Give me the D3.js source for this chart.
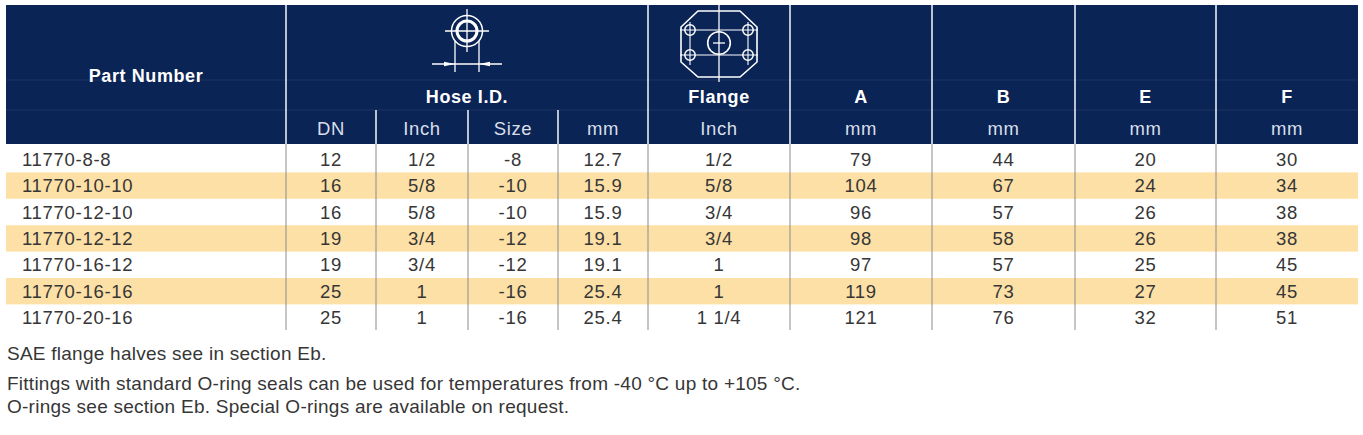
<!DOCTYPE html>
<html>
<head>
<meta charset="utf-8">
<script src="https://cdn.jsdelivr.net/npm/d3@7/dist/d3.min.js"></script>
<style>
  html, body { margin: 0; padding: 0; background: #ffffff; }
  svg { display: block; }
  text { font-family: "Liberation Sans", Arial, Helvetica, sans-serif; }
</style>
</head>
<body>
<svg id="chart" width="1363" height="435"></svg>
<script>
// ---------------- data ----------------
const partNumbers = ["11770-8-8", "11770-10-10", "11770-12-10", "11770-12-12", "11770-16-12", "11770-16-16", "11770-20-16"];
const hoseDN      = ["12", "16", "16", "19", "19", "25", "25"];
const hoseInch    = ["1/2", "5/8", "5/8", "3/4", "3/4", "1", "1"];
const hoseSize    = ["-8", "-10", "-10", "-12", "-12", "-16", "-16"];
const hoseMm      = ["12.7", "15.9", "15.9", "19.1", "19.1", "25.4", "25.4"];
const flangeInch  = ["1/2", "5/8", "3/4", "3/4", "1", "1", "1 1/4"];
const dimA        = [79, 104, 96, 98, 97, 119, 121];
const dimB        = [44, 67, 57, 58, 57, 73, 76];
const dimE        = [20, 24, 26, 26, 25, 27, 32];
const dimF        = [30, 34, 38, 38, 45, 45, 51];

const columnKeys   = ["part", "dn", "inch", "size", "mm", "flange", "A", "B", "E", "F"];
const subHeaders   = ["", "DN", "Inch", "Size", "mm", "Inch", "mm", "mm", "mm", "mm"];
const groupHeaders = [
  { label: "Part Number", from: "part", to: "part" },
  { label: "Hose I.D.",   from: "dn",   to: "mm" },
  { label: "Flange",      from: "flange", to: "flange" },
  { label: "A", from: "A", to: "A" },
  { label: "B", from: "B", to: "B" },
  { label: "E", from: "E", to: "E" },
  { label: "F", from: "F", to: "F" }
];
const footnotes = [
  "SAE flange halves see in section Eb.",
  "Fittings with standard O-ring seals can be used for temperatures from -40 °C up to +105 °C.",
  "O-rings see section Eb. Special O-rings are available on request."
];

const columns = [partNumbers, hoseDN, hoseInch, hoseSize, hoseMm, flangeInch, dimA, dimB, dimE, dimF];

// ---------------- layout ----------------
const NAVY = "#0a2456";
const STRIPE = "#fde0a6";
const TEXT = "#363636";
const colEdges = [6, 286, 376, 468, 558, 648, 790, 932, 1075, 1216, 1358];
const headTop = 5, headBottom = 144, labelLineY = 80, subLineY = 110;

const svg = d3.select("#chart");

const x0 = d3.scaleOrdinal().domain(columnKeys).range(colEdges.slice(0, -1));
const x1 = d3.scaleOrdinal().domain(columnKeys).range(colEdges.slice(1));
const xc = k => (x0(k) + x1(k)) / 2;

const y = d3.scaleBand().domain(partNumbers).range([146, 330.8]).padding(0);

// ---------------- header ----------------
svg.append("rect")
  .attr("x", colEdges[0]).attr("y", headTop)
  .attr("width", colEdges[colEdges.length - 1] - colEdges[0])
  .attr("height", headBottom - headTop)
  .attr("fill", NAVY);

// faint header row lines
[labelLineY, subLineY].forEach(ly => {
  svg.append("line")
    .attr("x1", colEdges[0]).attr("x2", colEdges[colEdges.length - 1])
    .attr("y1", ly).attr("y2", ly)
    .attr("stroke", "#ffffff").attr("stroke-opacity", 0.08).attr("stroke-width", 1);
});

// group separators full height (white)
const groupStarts = groupHeaders.slice(1).map(g => x0(g.from));
svg.selectAll("line.gsep").data(groupStarts).join("line")
  .attr("class", "gsep")
  .attr("x1", d => d).attr("x2", d => d)
  .attr("y1", headTop).attr("y2", headBottom)
  .attr("stroke", "#e8ecf2").attr("stroke-width", 1.6);

// sub separators inside Hose I.D. (only lower row)
const subSeps = ["inch", "size", "mm"].map(k => x0(k));
svg.selectAll("line.ssep").data(subSeps).join("line")
  .attr("class", "ssep")
  .attr("x1", d => d).attr("x2", d => d)
  .attr("y1", subLineY).attr("y2", headBottom)
  .attr("stroke", "#e8ecf2").attr("stroke-width", 1.6);

// group labels
svg.selectAll("text.glabel").data(groupHeaders).join("text")
  .attr("class", "glabel")
  .attr("x", d => (x0(d.from) + x1(d.to)) / 2)
  .attr("y", d => d.label === "Part Number" ? 81.5 : 103.3)
  .attr("text-anchor", "middle")
  .attr("fill", "#ffffff")
  .attr("font-weight", "bold")
  .attr("font-size", "18px")
  .attr("letter-spacing", "0.6px")
  .text(d => d.label);

// sub labels
svg.selectAll("text.slabel").data(columnKeys).join("text")
  .attr("class", "slabel")
  .attr("x", k => xc(k))
  .attr("y", 135)
  .attr("text-anchor", "middle")
  .attr("fill", "#d9dfe9")
  .attr("font-size", "18.5px")
  .attr("letter-spacing", "0.6px")
  .text((k, i) => subHeaders[i]);

// ---------------- icons ----------------
const ic = svg.append("g").attr("fill", "none").attr("stroke", "#ffffff").attr("stroke-width", 1.3);

// hose icon
const hcx = (x0("dn") + x1("mm")) / 2, hcy = 31;
ic.append("circle").attr("cx", hcx).attr("cy", hcy).attr("r", 15.5).attr("stroke-width", 1.5);
ic.append("circle").attr("cx", hcx).attr("cy", hcy).attr("r", 10).attr("stroke-width", 3);
ic.append("line").attr("x1", hcx).attr("x2", hcx).attr("y1", hcy - 22).attr("y2", hcy + 21);
ic.append("line").attr("x1", hcx - 22).attr("x2", hcx + 22).attr("y1", hcy).attr("y2", hcy);
ic.append("line").attr("x1", hcx - 12).attr("x2", hcx - 12).attr("y1", hcy + 10).attr("y2", hcy + 41);
ic.append("line").attr("x1", hcx + 12).attr("x2", hcx + 12).attr("y1", hcy + 10).attr("y2", hcy + 41);
ic.append("line").attr("x1", hcx - 35).attr("x2", hcx + 35).attr("y1", hcy + 33).attr("y2", hcy + 33);
ic.append("path").attr("fill", "#ffffff").attr("stroke", "none")
  .attr("d", `M${hcx - 12},${hcy + 33} l-11,-2.2 l0,4.4 Z M${hcx + 12},${hcy + 33} l11,-2.2 l0,4.4 Z`);

// flange icon
const fcx = xc("flange"), fcy = 43;
ic.append("path")
  .attr("d", `M${fcx - 21},${fcy - 32} L${fcx + 21},${fcy - 32} L${fcx + 38},${fcy - 16} L${fcx + 38},${fcy + 19} L${fcx + 21},${fcy + 34} L${fcx - 21},${fcy + 34} L${fcx - 38},${fcy + 19} L${fcx - 38},${fcy - 16} Z`)
  .attr("stroke-width", 1.6);
ic.append("circle").attr("cx", fcx).attr("cy", fcy).attr("r", 11.3).attr("stroke-width", 1.6);
ic.append("line").attr("x1", fcx).attr("x2", fcx).attr("y1", fcy - 38).attr("y2", fcy + 39);
ic.append("line").attr("x1", fcx - 6).attr("x2", fcx + 6).attr("y1", fcy).attr("y2", fcy);
[[-29, -13], [29, -13], [-29, 12], [29, 12]].forEach(([dx, dy]) => {
  ic.append("circle").attr("cx", fcx + dx).attr("cy", fcy + dy).attr("r", 5.2).attr("stroke-width", 1.5);
});
[-13, 12].forEach(dy => {
  ic.append("line").attr("x1", fcx - 39).attr("x2", fcx + 39).attr("y1", fcy + dy).attr("y2", fcy + dy).attr("stroke-width", 1.1);
});
[-29, 29].forEach(dx => {
  ic.append("line").attr("x1", fcx + dx).attr("x2", fcx + dx).attr("y1", fcy - 21).attr("y2", fcy + 22).attr("stroke-width", 1.1);
});

// ---------------- body ----------------
svg.selectAll("rect.stripe").data(partNumbers.filter((d, i) => i % 2 === 1)).join("rect")
  .attr("class", "stripe")
  .attr("x", colEdges[0]).attr("width", colEdges[colEdges.length - 1] - colEdges[0])
  .attr("y", d => y(d)).attr("height", y.bandwidth())
  .attr("fill", STRIPE);

// body separators
svg.selectAll("line.bsep").data(columnKeys.slice(1)).join("line")
  .attr("class", "bsep")
  .attr("x1", k => x0(k)).attr("x2", k => x0(k))
  .attr("y1", headBottom).attr("y2", 330)
  .attr("stroke", "#8c8c8c").attr("stroke-width", 1);

// cells
const rows = partNumbers.map((p, i) => columns.map(c => c[i]));
const rowG = svg.selectAll("g.row").data(rows).join("g")
  .attr("class", "row")
  .attr("transform", (r, i) => `translate(0,${y(partNumbers[i]) + y.bandwidth() / 2 + 6.6})`);

rowG.selectAll("text").data(r => r.map((v, j) => ({ v, k: columnKeys[j] }))).join("text")
  .attr("x", d => d.k === "part" ? 22 : xc(d.k))
  .attr("text-anchor", d => d.k === "part" ? "start" : "middle")
  .attr("fill", TEXT)
  .attr("font-size", "18.5px")
  .attr("letter-spacing", "0.7px")
  .text(d => d.v);

// ---------------- footnotes ----------------
const noteY = [359.5, 389.5, 413];
svg.selectAll("text.note").data(footnotes).join("text")
  .attr("class", "note")
  .attr("x", 7)
  .attr("y", (d, i) => noteY[i])
  .attr("fill", TEXT)
  .attr("font-size", "19px")
  .attr("letter-spacing", "0.25px")
  .text(d => d);
</script>
</body>
</html>
